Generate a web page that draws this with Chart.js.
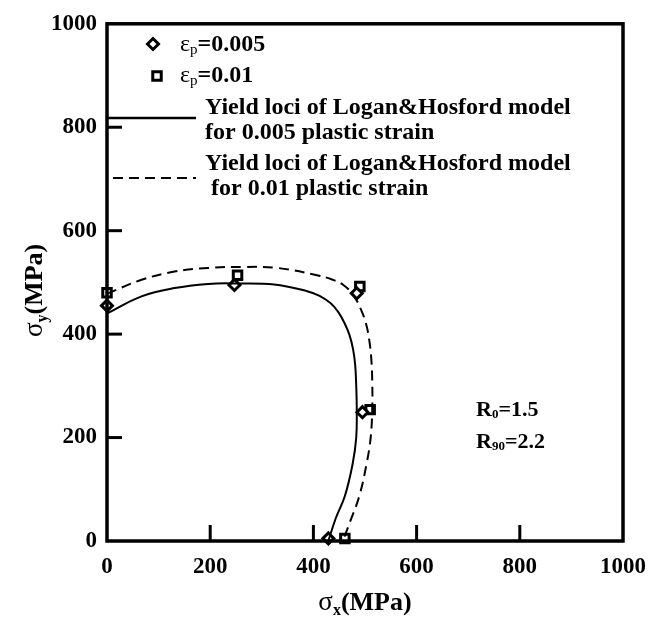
<!DOCTYPE html>
<html>
<head>
<meta charset="utf-8">
<script src="https://cdn.jsdelivr.net/npm/chart.js@4/dist/chart.umd.min.js"></script>
<style>
  html, body { margin: 0; padding: 0; background: #fff; }
  #wrap { width: 667px; height: 619px; position: relative; }
</style>
</head>
<body>
<div id="wrap"><canvas id="c" width="667" height="619"></canvas></div>
<script>
// Axis ticks (MPa)
const tickValues = [0, 200, 400, 600, 800, 1000];

// Measured yield points, plastic strain 0.005
const exp005X = [0, 247, 484, 495, 429];
const exp005Y = [455, 495, 479, 249, 5];

// Measured yield points, plastic strain 0.01
const exp01X = [0, 253, 490, 510, 461];
const exp01Y = [480, 514, 492, 254, 5];

// Logan & Hosford yield locus, 0.005 plastic strain
const locus005X = [0, 67, 131, 196, 247, 324, 388, 412, 433, 448, 460, 470, 477, 481, 483, 484, 483, 476, 461, 443, 429];
const locus005Y = [440, 473, 489, 497, 498, 496, 483, 474, 460, 443, 422, 398, 370, 340, 300, 255, 200, 149, 87, 43, 0];

// Logan & Hosford yield locus, 0.01 plastic strain
const locus01X = [0, 67, 131, 196, 266, 330, 407, 435, 458, 477, 492, 502, 508, 512, 514, 514, 511, 503, 489, 471, 457];
const locus01Y = [478, 505, 521, 528, 530, 528, 514, 506, 495, 476, 448, 420, 390, 355, 310, 255, 200, 149, 87, 37, 0];

const zip = (xs, ys) => xs.map((x, i) => ({ x: x, y: ys[i] }));

const SERIF = '"Liberation Serif", "Times New Roman", serif';
const INK = '#000';

// Draw a run of text pieces, some of them subscripts
function richWidth(ctx, parts) {
  let w = 0;
  parts.forEach(p => { ctx.font = p.font; w += ctx.measureText(p.t).width; });
  return w;
}
function drawRich(ctx, parts, x, y, align) {
  ctx.save();
  ctx.textBaseline = 'middle';
  ctx.textAlign = 'left';
  ctx.fillStyle = INK;
  let cx = x;
  if (align === 'center') cx = x - richWidth(ctx, parts) / 2;
  parts.forEach(p => {
    ctx.font = p.font;
    ctx.fillText(p.t, cx, y + (p.dy || 0));
    cx += ctx.measureText(p.t).width;
  });
  ctx.restore();
}

const decor = {
  id: 'decor',
  afterDraw(chart) {
    const ctx = chart.ctx;
    const a = chart.chartArea;
    const xs = chart.scales.x, ys = chart.scales.y;

    // frame
    ctx.save();
    ctx.strokeStyle = INK;
    ctx.lineWidth = 3.5;
    ctx.strokeRect(a.left, a.top, a.right - a.left, a.bottom - a.top);

    // inward ticks on the bottom and left axes
    ctx.lineWidth = 3;
    tickValues.slice(1, -1).forEach(v => {
      const px = xs.getPixelForValue(v);
      ctx.beginPath(); ctx.moveTo(px, a.bottom); ctx.lineTo(px, a.bottom - 16); ctx.stroke();
      const py = ys.getPixelForValue(v);
      ctx.beginPath(); ctx.moveTo(a.left, py); ctx.lineTo(a.left + 15, py); ctx.stroke();
    });
    ctx.restore();

    // axis titles
    const big = 'bold 26px ' + SERIF;
    const sigma = '27px ' + SERIF;
    const sub = 'bold 16px ' + SERIF;
    drawRich(ctx, [
      { t: 'σ', font: sigma },
      { t: 'x', font: sub, dy: 8 },
      { t: '(MPa)', font: big }
    ], (a.left + a.right) / 2, 603, 'center');

    ctx.save();
    ctx.translate(35, (a.top + a.bottom) / 2 + 8);
    ctx.rotate(-Math.PI / 2);
    drawRich(ctx, [
      { t: 'σ', font: sigma },
      { t: 'y', font: sub, dy: 8 },
      { t: '(MPa)', font: big }
    ], 0, 0, 'center');
    ctx.restore();

    // legend
    const lf = 'bold 24px ' + SERIF;
    const eps = '24px ' + SERIF;
    const epsSub = '15px ' + SERIF;
    ctx.save();
    ctx.strokeStyle = INK;
    ctx.fillStyle = '#fff';
    ctx.lineWidth = 3;
    Chart.helpers.drawPoint(ctx, { pointStyle: 'rectRot', radius: 5.5, borderWidth: 3 }, 153, 44);
    Chart.helpers.drawPoint(ctx, { pointStyle: 'rect', radius: 6, borderWidth: 3 }, 157, 76);
    ctx.restore();
    drawRich(ctx, [
      { t: 'ε', font: eps },
      { t: 'p', font: epsSub, dy: 5 },
      { t: '=0.005', font: lf }
    ], 180, 45);
    drawRich(ctx, [
      { t: 'ε', font: eps },
      { t: 'p', font: epsSub, dy: 5 },
      { t: '=0.01', font: lf }
    ], 180, 76);

    ctx.save();
    ctx.strokeStyle = INK;
    ctx.lineWidth = 2.5;
    ctx.beginPath(); ctx.moveTo(a.left, 118); ctx.lineTo(196, 118); ctx.stroke();
    ctx.setLineDash([10, 6]);
    ctx.lineWidth = 2.2;
    ctx.beginPath(); ctx.moveTo(113, 178); ctx.lineTo(196, 178); ctx.stroke();
    ctx.restore();

    drawRich(ctx, [{ t: 'Yield loci of Logan&Hosford model', font: lf }], 205, 108);
    drawRich(ctx, [{ t: 'for 0.005 plastic strain', font: lf }], 205, 133);
    drawRich(ctx, [{ t: 'Yield loci of Logan&Hosford model', font: lf }], 205, 164);
    drawRich(ctx, [{ t: ' for 0.01 plastic strain', font: lf }], 205, 189);

    // anisotropy coefficients
    const rf = 'bold 22px ' + SERIF;
    const rs = 'bold 13px ' + SERIF;
    drawRich(ctx, [
      { t: 'R', font: rf },
      { t: '0', font: rs, dy: 5 },
      { t: '=1.5', font: rf }
    ], 476, 410);
    drawRich(ctx, [
      { t: 'R', font: rf },
      { t: '90', font: rs, dy: 5 },
      { t: '=2.2', font: rf }
    ], 476, 442);
  }
};

new Chart(document.getElementById('c'), {
  type: 'scatter',
  data: {
    datasets: [
      {
        label: 'locus 0.005',
        data: zip(locus005X, locus005Y),
        showLine: true,
        borderColor: INK,
        borderWidth: 2,
        pointRadius: 0,
        tension: 0.4,
        fill: false
      },
      {
        label: 'locus 0.01',
        data: zip(locus01X, locus01Y),
        showLine: true,
        borderColor: INK,
        borderWidth: 2,
        borderDash: [10, 6],
        pointRadius: 0,
        tension: 0.4,
        fill: false
      },
      {
        label: 'εp=0.005',
        data: zip(exp005X, exp005Y),
        pointStyle: 'rectRot',
        pointRadius: 5.5,
        pointBorderWidth: 3,
        pointBackgroundColor: '#fff',
        pointBorderColor: INK,
        clip: false
      },
      {
        label: 'εp=0.01',
        data: zip(exp01X, exp01Y),
        pointStyle: 'rect',
        pointRadius: 6,
        pointBorderWidth: 3,
        pointBackgroundColor: '#fff',
        pointBorderColor: INK,
        clip: false
      }
    ]
  },
  options: {
    responsive: false,
    animation: false,
    devicePixelRatio: 1,
    layout: { padding: { top: 14, right: 44, left: 0, bottom: 0 } },
    plugins: {
      legend: { display: false },
      tooltip: { enabled: false },
      title: { display: false }
    },
    scales: {
      x: {
        type: 'linear',
        min: 0,
        max: 1000,
        afterFit(s) { s.height = 78; },
        afterBuildTicks(s) { s.ticks = tickValues.map(v => ({ value: v })); },
        grid: { display: false, drawTicks: false },
        border: { display: false },
        ticks: {
          padding: 12,
          color: INK,
          callback: v => String(v),
          font: { family: SERIF, size: 23, weight: 'bold' }
        }
      },
      y: {
        type: 'linear',
        min: 0,
        max: 1000,
        afterFit(s) { s.width = 107; },
        afterBuildTicks(s) { s.ticks = tickValues.map(v => ({ value: v })); },
        grid: { display: false, drawTicks: false },
        border: { display: false },
        ticks: {
          padding: 10,
          color: INK,
          callback: v => String(v),
          font: { family: SERIF, size: 23, weight: 'bold' }
        }
      }
    }
  },
  plugins: [decor]
});
</script>
</body>
</html>
